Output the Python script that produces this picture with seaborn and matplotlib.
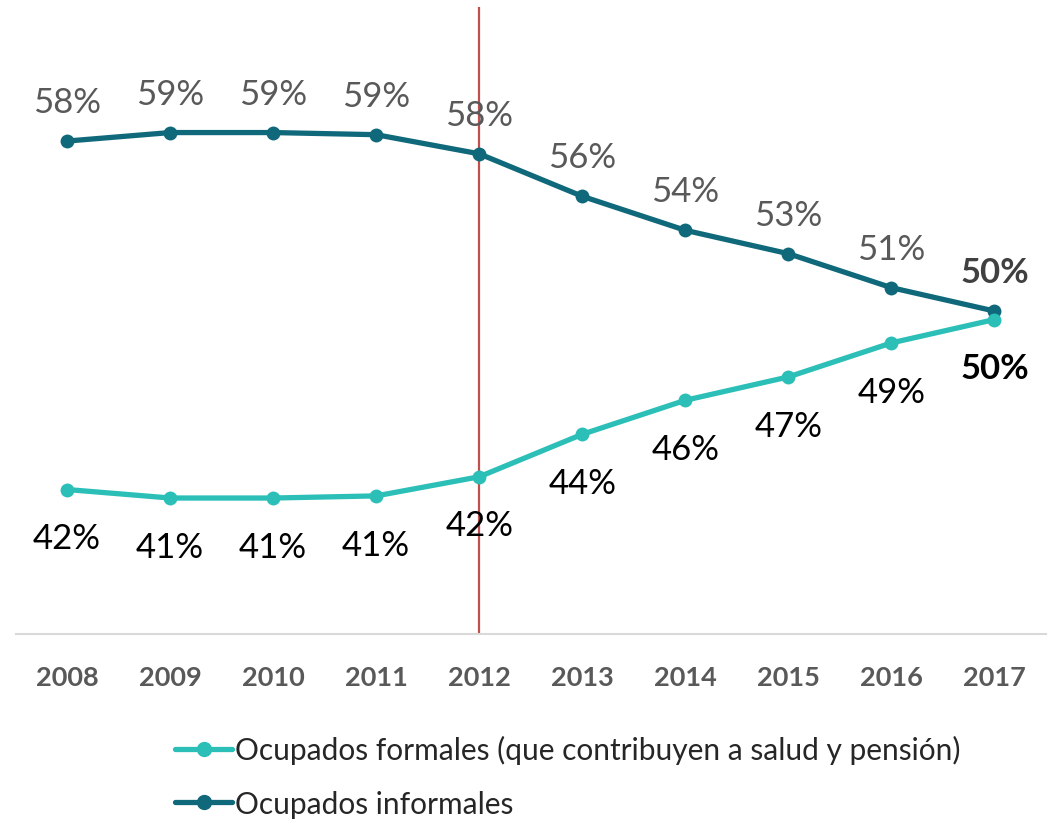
import numpy as np
import pandas as pd
import matplotlib
matplotlib.use("Agg")
import matplotlib.pyplot as plt
import seaborn as sns
from matplotlib.lines import Line2D

# data
years = [2008, 2009, 2010, 2011, 2012, 2013, 2014, 2015, 2016, 2017]
informales = [58.2, 58.6, 58.6, 58.5, 57.6, 55.6, 54.0, 52.9, 51.3, 50.2]
formales = [41.8, 41.4, 41.4, 41.5, 42.4, 44.4, 46.0, 47.1, 48.7, 49.8]
inf_labels = ["58%", "59%", "59%", "59%", "58%", "56%", "54%", "53%", "51%", "50%"]
for_labels = ["42%", "41%", "41%", "41%", "42%", "44%", "46%", "47%", "49%", "50%"]
serie_formal = "Ocupados formales (que contribuyen a salud y pensión)"
serie_informal = "Ocupados informales"
reform_year = 2012

c_formal = "#2BBFB8"
c_informal = "#10697A"

df = pd.DataFrame({
    "year": years * 2,
    "value": informales + formales,
    "serie": [serie_informal] * len(years) + [serie_formal] * len(years),
})

sns.set_style("white")
plt.rcParams["font.family"] = ["Lato", "DejaVu Sans"]

fig = plt.figure(figsize=(10.56, 8.2), dpi=100)
ax = fig.add_axes([0.0147, 0.2256, 0.9758, 0.7644])

sns.lineplot(data=df, x="year", y="value", hue="serie",
             hue_order=[serie_informal, serie_formal],
             palette={serie_informal: c_informal, serie_formal: c_formal},
             marker="o", markersize=10, markeredgewidth=0, linewidth=3.8,
             legend=False, ax=ax)

ax.axvline(reform_year, color="#C0504D", linewidth=1.6, zorder=1)

last = len(years) - 1
for i, (yr, v, lab) in enumerate(zip(years, informales, inf_labels)):
    bold = i == last
    ax.annotate(lab, (yr, v), xytext=(0, 28), textcoords="offset points",
                ha="center", va="center", fontsize=25,
                color="#404040" if bold else "#595959",
                fontweight="bold" if bold else "normal")
for i, (yr, v, lab) in enumerate(zip(years, formales, for_labels)):
    bold = i == last
    ax.annotate(lab, (yr, v), xytext=(0, -35), textcoords="offset points",
                ha="center", va="center", fontsize=25, color="black",
                fontweight="bold" if bold else "normal")

ax.set_xlim(years[0] - 0.5, years[-1] + 0.5)
ax.set_ylim(35, 64.5)
ax.set_xticks(years)
ax.set_xticklabels([str(y) for y in years], fontsize=19.5, fontweight="bold",
                   color="#595959")
ax.tick_params(axis="x", length=0, pad=22)
ax.set_yticks([])
ax.set_xlabel("")
ax.set_ylabel("")
for s in ["top", "right", "left"]:
    ax.spines[s].set_visible(False)
ax.spines["bottom"].set_color("#D9D9D9")
ax.spines["bottom"].set_linewidth(1.5)

handles = [
    Line2D([], [], color=c_formal, marker="o", markersize=10, linewidth=3.8),
    Line2D([], [], color=c_informal, marker="o", markersize=10, linewidth=3.8),
]
fig.legend(handles, [serie_formal, serie_informal], loc="upper left",
           bbox_to_anchor=(0.166, 0.102), frameon=False, fontsize=21.5,
           handlelength=1.9, handletextpad=0.1, labelspacing=0.85,
           borderaxespad=0, borderpad=0)

fig.savefig("out.png", dpi=100)
